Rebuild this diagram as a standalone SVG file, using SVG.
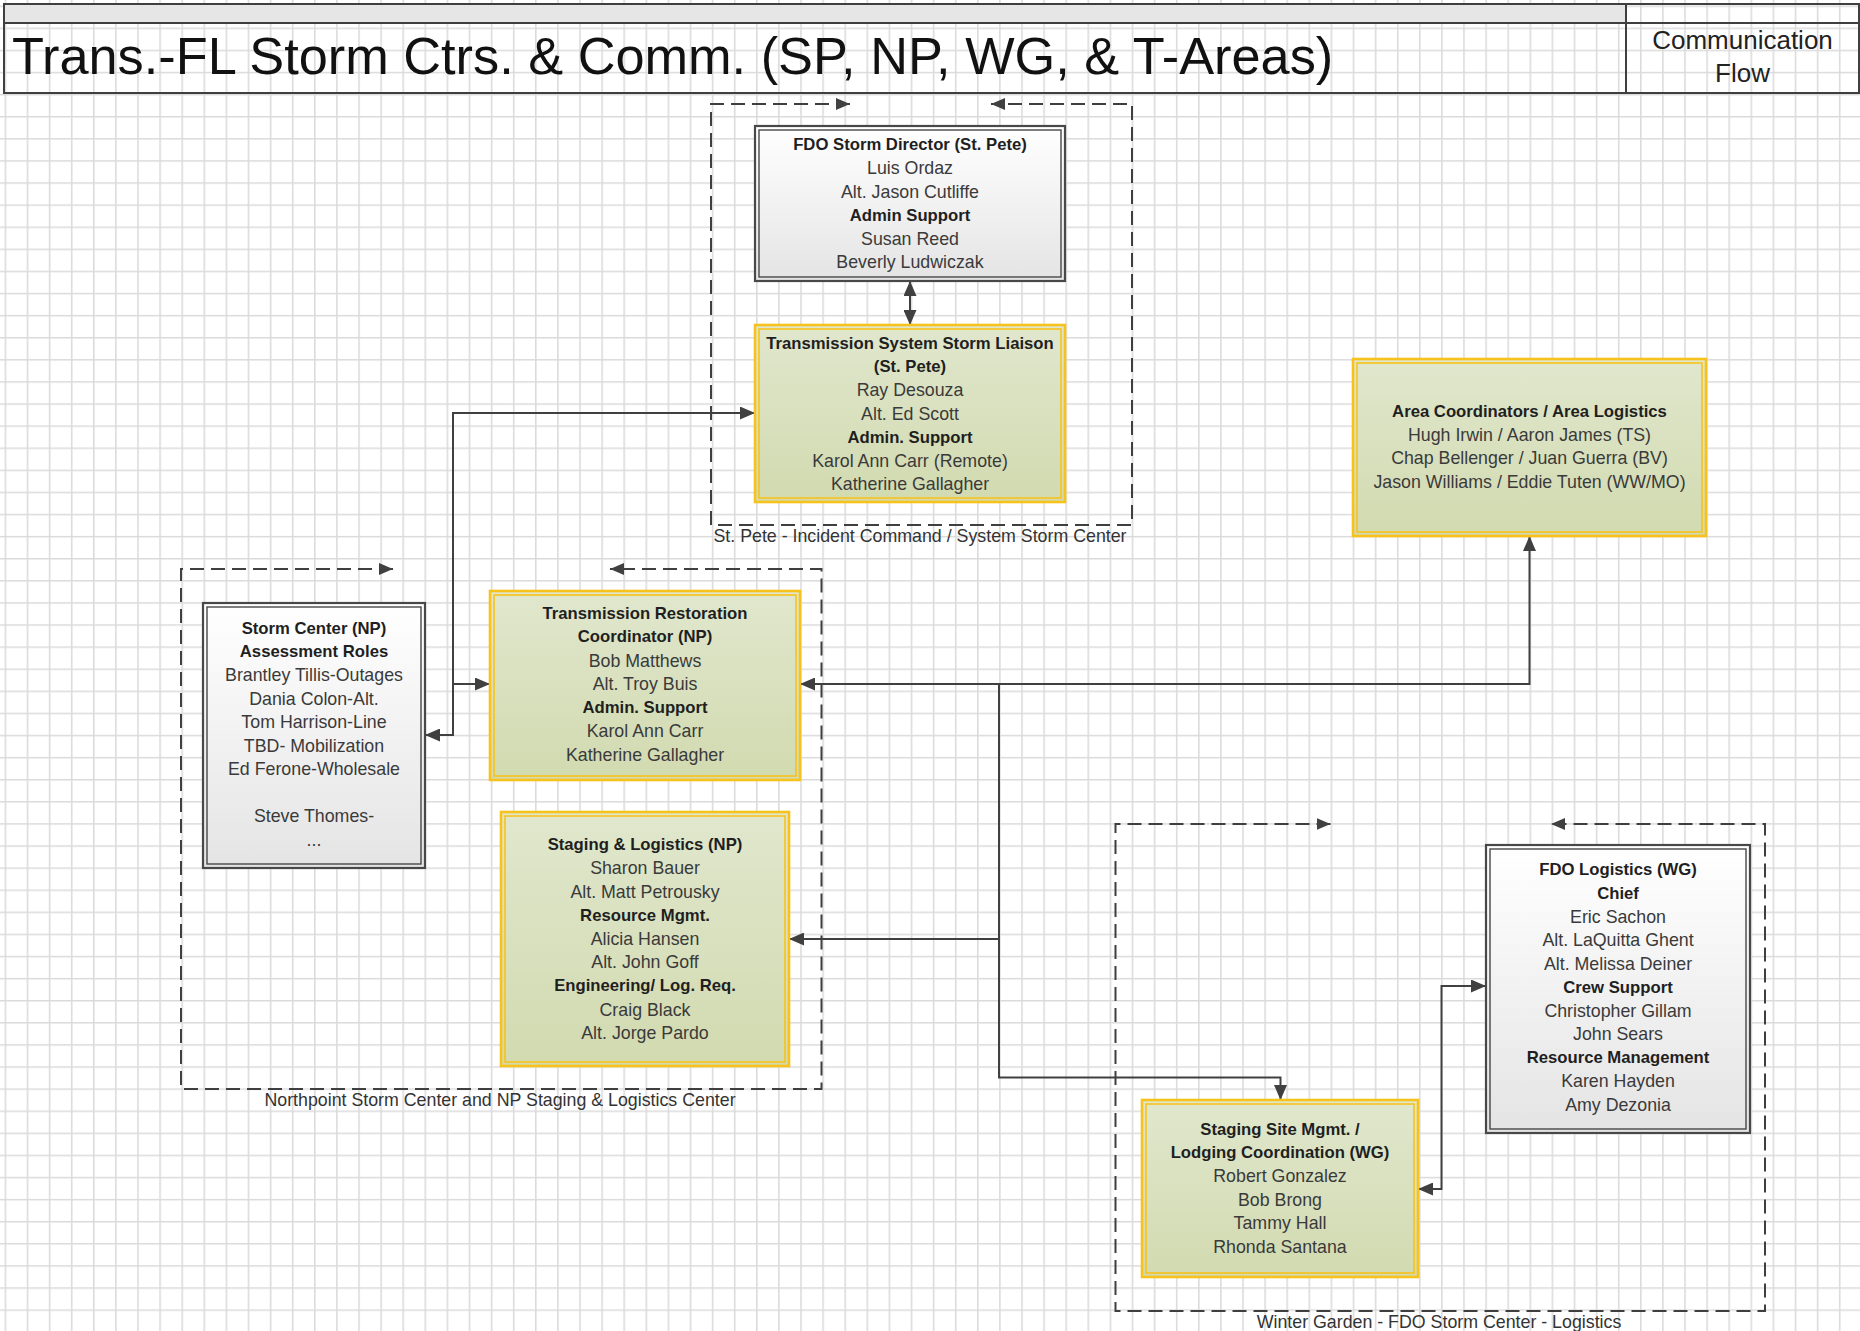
<svg xmlns="http://www.w3.org/2000/svg" width="1860" height="1331" viewBox="0 0 1860 1331">
  <defs>
    <pattern id="grid" x="4.6" y="5.5" width="22.1" height="22.1" patternUnits="userSpaceOnUse">
      <path d="M0,0.8 H22.1 M0.8,0 V22.1" stroke="#dadada" stroke-width="1.5" fill="none"/>
    </pattern>
    <linearGradient id="gGrey" x1="0" y1="0" x2="0" y2="1">
      <stop offset="0" stop-color="#ffffff"/>
      <stop offset="1" stop-color="#e4e4e4"/>
    </linearGradient>
    <linearGradient id="gGreen" x1="0" y1="0" x2="0" y2="1">
      <stop offset="0" stop-color="#e0e7cd"/>
      <stop offset="1" stop-color="#d2dab0"/>
    </linearGradient>
    <!-- solid arrowhead for connectors -->
    <marker id="ah" viewBox="0 0 15 13" refX="15" refY="6.5" markerWidth="15" markerHeight="13" markerUnits="userSpaceOnUse" orient="auto-start-reverse">
      <path d="M0,0 L15,6.5 L0,13 z" fill="#404040"/>
    </marker>
    <!-- arrowhead on the dashed area outlines -->
    <marker id="dah" viewBox="0 0 14 12" refX="14" refY="6" markerWidth="14" markerHeight="12" markerUnits="userSpaceOnUse" orient="auto-start-reverse">
      <path d="M0,0 L14,6 L0,12 z" fill="#404040"/>
    </marker>
  </defs>
  <style>
    .txt { font-family: "Liberation Sans", Arial, sans-serif; text-anchor: middle; dominant-baseline: central; }
    .r { font-size: 17.8px; fill: #3a3a3a; }
    .b { font-size: 16.7px; font-weight: bold; fill: #1f1f1f; }
    .grey .outer { fill: url(#gGrey); stroke: #484848; stroke-width: 2.2; }
    .grey .inner { fill: none; stroke: #484848; stroke-width: 1.4; }
    .green .outer { fill: url(#gGreen); stroke: #f8c21c; stroke-width: 2.6; }
    .green .inner { fill: none; stroke: #f8c21c; stroke-width: 1.6; }
    .lane { fill: none; stroke: #3f3f3f; stroke-width: 2; stroke-dasharray: 14 7; marker-start: url(#dah); marker-end: url(#dah); }
    .lane-label { font-family: "Liberation Sans", Arial, sans-serif; font-size: 17.8px; fill: #333333; text-anchor: middle; }
    .conn { fill: none; stroke: #404040; stroke-width: 2; }
    .frame { fill: none; stroke: #3f3f3f; stroke-width: 2; }
  </style>

  <!-- page background and drawing grid -->
  <rect x="0" y="0" width="1860" height="1331" fill="#ffffff"/>
  <rect x="0" y="0" width="1860" height="1331" fill="url(#grid)"/>

  <!-- title block -->
  <g id="title-block">
    <rect x="4" y="4" width="1622" height="19" fill="#e6e6e6"/>
    <rect class="frame" x="4" y="4" width="1855" height="89"/>
    <line class="frame" x1="4" y1="23" x2="1859" y2="23"/>
    <line class="frame" x1="1626" y1="4" x2="1626" y2="93"/>
    <text x="12" y="74" font-family="'Liberation Sans', Arial, sans-serif" font-size="52.3" fill="#111111">Trans.-FL Storm Ctrs. &amp; Comm. (SP, NP, WG, &amp; T-Areas)</text>
    <text x="1742.5" y="49" font-family="'Liberation Sans', Arial, sans-serif" font-size="26" fill="#222222" text-anchor="middle">Communication</text>
    <text x="1742.5" y="82" font-family="'Liberation Sans', Arial, sans-serif" font-size="26" fill="#222222" text-anchor="middle">Flow</text>
  </g>

  <!-- dashed area outlines with their captions -->
  <g id="areas">
    <g id="area-stpete">
      <path class="lane" d="M850,104 H711 V525 H1132 V104 H991"/>
      <text class="lane-label" x="920" y="542">St. Pete - Incident Command / System Storm Center</text>
    </g>
    <g id="area-northpoint">
      <path class="lane" d="M393,569 H181 V1089 H821.5 V569 H610"/>
      <text class="lane-label" x="500" y="1106">Northpoint Storm Center and NP Staging &amp; Logistics Center</text>
    </g>
    <g id="area-wintergarden">
      <path class="lane" d="M1330.5,824 H1115.5 V1311 H1765 V824 H1551"/>
      <text class="lane-label" x="1439" y="1328">Winter Garden - FDO Storm Center - Logistics</text>
    </g>
  </g>

  <!-- connectors -->
  <g id="connectors">
    <path class="conn" d="M910,281 V325" marker-start="url(#ah)" marker-end="url(#ah)"/>
    <path class="conn" d="M425,735 H453 V413 H755" marker-start="url(#ah)" marker-end="url(#ah)"/>
    <path class="conn" d="M453,684 H490" marker-end="url(#ah)"/>
    <path class="conn" d="M800,684 H1529.5 V536" marker-start="url(#ah)" marker-end="url(#ah)"/>
    <path class="conn" d="M999,684 V1077.5 H1280.5 V1100" marker-end="url(#ah)"/>
    <path class="conn" d="M999,939 H789" marker-end="url(#ah)"/>
    <path class="conn" d="M1418,1189 H1441.5 V986 H1486" marker-start="url(#ah)" marker-end="url(#ah)"/>
  </g>

  <!-- FDO Storm Director -->
  <g id="storm-director" class="node grey">
    <rect class="outer" x="755" y="126" width="310" height="155"/>
    <rect class="inner" x="759" y="130" width="302" height="147"/>
    <text class="txt b" x="910" y="144.3">FDO Storm Director (St. Pete)</text>
    <text class="txt r" x="910" y="167.9">Luis Ordaz</text>
    <text class="txt r" x="910" y="191.5">Alt. Jason Cutliffe</text>
    <text class="txt b" x="910" y="215.1">Admin Support</text>
    <text class="txt r" x="910" y="238.7">Susan Reed</text>
    <text class="txt r" x="910" y="262.3">Beverly Ludwiczak</text>
  </g>

  <!-- Transmission System Storm Liaison -->
  <g id="storm-liaison" class="node green">
    <rect class="outer" x="755" y="325" width="310" height="177"/>
    <rect class="inner" x="759" y="329" width="302" height="169"/>
    <text class="txt b" x="910" y="343.3">Transmission System Storm Liaison</text>
    <text class="txt b" x="910" y="366.8">(St. Pete)</text>
    <text class="txt r" x="910" y="390.3">Ray Desouza</text>
    <text class="txt r" x="910" y="413.8">Alt. Ed Scott</text>
    <text class="txt b" x="910" y="437.3">Admin. Support</text>
    <text class="txt r" x="910" y="460.8">Karol Ann Carr (Remote)</text>
    <text class="txt r" x="910" y="484.3">Katherine Gallagher</text>
  </g>

  <!-- Area Coordinators / Area Logistics -->
  <g id="area-coordinators" class="node green">
    <rect class="outer" x="1353" y="359" width="353" height="177"/>
    <rect class="inner" x="1357" y="363" width="345" height="169"/>
    <text class="txt b" x="1529.5" y="411">Area Coordinators / Area Logistics</text>
    <text class="txt r" x="1529.5" y="434.7">Hugh Irwin / Aaron James (TS)</text>
    <text class="txt r" x="1529.5" y="458.4">Chap Bellenger / Juan Guerra (BV)</text>
    <text class="txt r" x="1529.5" y="482.1">Jason Williams / Eddie Tuten (WW/MO)</text>
  </g>

  <!-- Storm Center (NP) -->
  <g id="storm-center-np" class="node grey">
    <rect class="outer" x="203" y="603" width="222" height="265"/>
    <rect class="inner" x="207" y="607" width="214" height="257"/>
    <text class="txt b" x="314" y="628.3">Storm Center (NP)</text>
    <text class="txt b" x="314" y="651.8">Assessment Roles</text>
    <text class="txt r" x="314" y="675.3">Brantley Tillis-Outages</text>
    <text class="txt r" x="314" y="698.8">Dania Colon-Alt.</text>
    <text class="txt r" x="314" y="722.3">Tom Harrison-Line</text>
    <text class="txt r" x="314" y="745.8">TBD- Mobilization</text>
    <text class="txt r" x="314" y="769.3">Ed Ferone-Wholesale</text>
    <text class="txt r" x="314" y="816.3">Steve Thomes-</text>
    <text class="txt r" x="314" y="839.8">...</text>
  </g>

  <!-- Transmission Restoration Coordinator (NP) -->
  <g id="restoration-coordinator" class="node green">
    <rect class="outer" x="490" y="591" width="310" height="189"/>
    <rect class="inner" x="494" y="595" width="302" height="181"/>
    <text class="txt b" x="645" y="613.3">Transmission Restoration</text>
    <text class="txt b" x="645" y="636.9">Coordinator (NP)</text>
    <text class="txt r" x="645" y="660.5">Bob Matthews</text>
    <text class="txt r" x="645" y="684.1">Alt. Troy Buis</text>
    <text class="txt b" x="645" y="707.7">Admin. Support</text>
    <text class="txt r" x="645" y="731.3">Karol Ann Carr</text>
    <text class="txt r" x="645" y="754.9">Katherine Gallagher</text>
  </g>

  <!-- Staging & Logistics (NP) -->
  <g id="staging-logistics-np" class="node green">
    <rect class="outer" x="501" y="812" width="288" height="254"/>
    <rect class="inner" x="505" y="816" width="280" height="246"/>
    <text class="txt b" x="645" y="844.3">Staging &amp; Logistics (NP)</text>
    <text class="txt r" x="645" y="867.9">Sharon Bauer</text>
    <text class="txt r" x="645" y="891.5">Alt. Matt Petrousky</text>
    <text class="txt b" x="645" y="915.1">Resource Mgmt.</text>
    <text class="txt r" x="645" y="938.7">Alicia Hansen</text>
    <text class="txt r" x="645" y="962.3">Alt. John Goff</text>
    <text class="txt b" x="645" y="985.9">Engineering/ Log. Req.</text>
    <text class="txt r" x="645" y="1009.5">Craig Black</text>
    <text class="txt r" x="645" y="1033.1">Alt. Jorge Pardo</text>
  </g>

  <!-- FDO Logistics (WG) -->
  <g id="fdo-logistics-wg" class="node grey">
    <rect class="outer" x="1486" y="845" width="264" height="288"/>
    <rect class="inner" x="1490" y="849" width="256" height="280"/>
    <text class="txt b" x="1618" y="869.5">FDO Logistics (WG)</text>
    <text class="txt b" x="1618" y="893">Chief</text>
    <text class="txt r" x="1618" y="916.5">Eric Sachon</text>
    <text class="txt r" x="1618" y="940">Alt. LaQuitta Ghent</text>
    <text class="txt r" x="1618" y="963.5">Alt. Melissa Deiner</text>
    <text class="txt b" x="1618" y="987">Crew Support</text>
    <text class="txt r" x="1618" y="1010.5">Christopher Gillam</text>
    <text class="txt r" x="1618" y="1034">John Sears</text>
    <text class="txt b" x="1618" y="1057.5">Resource Management</text>
    <text class="txt r" x="1618" y="1081">Karen Hayden</text>
    <text class="txt r" x="1618" y="1104.5">Amy Dezonia</text>
  </g>

  <!-- Staging Site Mgmt. / Lodging Coordination (WG) -->
  <g id="staging-site-wg" class="node green">
    <rect class="outer" x="1142" y="1100" width="276" height="177"/>
    <rect class="inner" x="1146" y="1104" width="268" height="169"/>
    <text class="txt b" x="1280" y="1129.3">Staging Site Mgmt. /</text>
    <text class="txt b" x="1280" y="1152.8">Lodging Coordination (WG)</text>
    <text class="txt r" x="1280" y="1176.3">Robert Gonzalez</text>
    <text class="txt r" x="1280" y="1199.8">Bob Brong</text>
    <text class="txt r" x="1280" y="1223.3">Tammy Hall</text>
    <text class="txt r" x="1280" y="1246.8">Rhonda Santana</text>
  </g>
</svg>
